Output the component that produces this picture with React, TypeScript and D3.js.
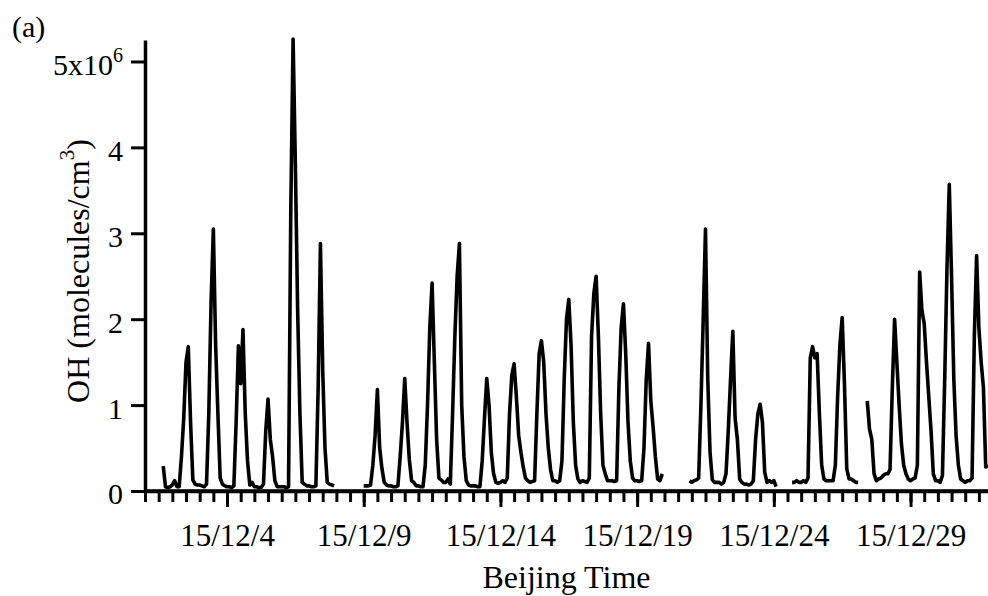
import React, { useEffect, useRef } from "react";
import * as d3 from "d3";

// OH concentration in 10^6 molecules/cm3, read every 2 h (00, 02, ... 22 h) per day.
// null = no measurement
const dec01 = [null, null, null, null, null, null, null, null, 0.29, 0.05, 0.04, 0.05];
const dec02 = [0.07, 0.12, 0.05, 0.05, 0.4, 0.85, 1.5, 1.68, 0.8, 0.13, 0.08, 0.07];
const dec03 = [0.07, 0.06, 0.05, 0.08, 0.9, 2.2, 3.05, 1.7, 0.9, 0.15, 0.08, 0.06];
const dec04 = [0.05, 0.05, 0.04, 0.06, 0.8, 1.69, 1.25, 1.88, 0.9, 0.35, 0.07, 0.1];
const dec05 = [0.05, 0.05, 0.04, 0.04, 0.08, 0.7, 1.07, 0.6, 0.4, 0.12, 0.05, 0.05];
const dec06 = [0.05, 0.05, 0.04, 0.05, 3.3, 5.26, 3.8, 2.1, 0.9, 0.1, 0.08, 0.06];
const dec07 = [0.06, 0.05, 0.05, 0.06, 1.2, 2.88, 1.4, 0.5, 0.1, 0.08, 0.07, 0.06];
const dec08 = [null, null, null, null, null, null, null, null, null, null, null, null];
const dec09 = [0.06, 0.06, 0.06, 0.07, 0.3, 0.65, 1.18, 0.5, 0.26, 0.1, 0.07, 0.06];
const dec10 = [0.06, 0.05, 0.05, 0.06, 0.4, 0.8, 1.31, 0.8, 0.37, 0.12, 0.1, 0.06];
const dec11 = [0.06, 0.05, 0.05, 0.3, 1.0, 1.9, 2.42, 1.5, 0.6, 0.15, 0.13, 0.1];
const dec12 = [0.1, 0.14, 0.08, 0.9, 1.8, 2.5, 2.88, 1.0, 0.4, 0.12, 0.07, 0.06];
const dec13 = [0.06, 0.06, 0.05, 0.05, 0.35, 0.85, 1.31, 1.0, 0.45, 0.2, 0.1, 0.09];
const dec14 = [0.1, 0.12, 0.1, 0.15, 0.9, 1.35, 1.48, 1.1, 0.65, 0.45, 0.28, 0.15];
const dec15 = [0.12, 0.1, 0.11, 0.12, 0.9, 1.6, 1.75, 1.5, 0.9, 0.5, 0.25, 0.12];
const dec16 = [0.12, 0.1, 0.12, 0.35, 1.3, 2.0, 2.23, 1.7, 0.8, 0.3, 0.14, 0.1];
const dec17 = [0.12, 0.11, 0.1, 0.15, 1.8, 2.3, 2.5, 1.8, 0.9, 0.3, 0.2, 0.12];
const dec18 = [0.12, 0.12, 0.11, 0.12, 1.2, 1.9, 2.18, 1.6, 0.8, 0.35, 0.15, 0.12];
const dec19 = [0.12, 0.11, 0.12, 0.5, 1.3, 1.72, 1.05, 0.75, 0.4, 0.14, 0.12, 0.2];
const dec20 = [null, null, null, null, null, null, null, null, null, null, null, 0.12];
const dec21 = [0.1, 0.12, 0.13, 0.15, 1.0, 2.0, 3.05, 1.3, 0.45, 0.13, 0.1, 0.1];
const dec22 = [0.1, 0.08, 0.1, 0.2, 0.7, 1.3, 1.86, 0.85, 0.6, 0.14, 0.1, 0.08];
const dec23 = [0.08, 0.07, 0.08, 0.12, 0.6, 0.9, 1.01, 0.8, 0.22, 0.1, 0.12, 0.1];
const dec24 = [0.12, 0.05, null, null, null, null, null, null, 0.1, 0.1, 0.12, 0.1];
const dec25 = [0.1, 0.12, 0.1, 0.15, 1.55, 1.68, 1.55, 1.6, 0.9, 0.3, 0.14, 0.12];
const dec26 = [0.12, 0.12, 0.12, 0.3, 1.1, 1.7, 2.02, 1.25, 0.26, 0.14, 0.14, 0.12];
const dec27 = [0.1, 0.1, null, null, null, 1.05, 0.72, 0.6, 0.2, 0.12, 0.14, 0.15];
const dec28 = [0.18, 0.2, 0.2, 0.25, 1.2, 2.0, 1.5, 1.0, 0.55, 0.3, 0.2, 0.14];
const dec29 = [0.12, 0.14, 0.15, 0.3, 2.55, 2.1, 1.95, 1.5, 1.1, 0.7, 0.2, 0.12];
const dec30 = [0.12, 0.1, 0.18, 1.3, 2.6, 3.57, 2.5, 1.3, 0.64, 0.3, 0.14, 0.12];
const dec31 = [0.1, 0.12, 0.12, 0.15, 1.8, 2.74, 1.9, 1.5, 1.2, 0.28, 0.3];

const days = [
  dec01, dec02, dec03, dec04, dec05, dec06, dec07, dec08, dec09, dec10,
  dec11, dec12, dec13, dec14, dec15, dec16, dec17, dec18, dec19, dec20,
  dec21, dec22, dec23, dec24, dec25, dec26, dec27, dec28, dec29, dec30, dec31,
];

const startDate = new Date(2015, 11, 1, 0);
const endDate = new Date(2015, 11, 31, 20);
const majorTickDates = ["2015-12-04", "2015-12-09", "2015-12-14", "2015-12-19", "2015-12-24", "2015-12-29"];
const yTicks = [0, 1, 2, 3, 4, 5];
const yTickLabels = ["0", "1", "2", "3", "4", "5x10"];

type Point = { t: Date; v: number | null };

const FONT = "'Liberation Serif', 'Times New Roman', serif";

export default function App() {
  const svgRef = useRef<SVGSVGElement>(null);

  useEffect(() => {
    const svg = d3.select(svgRef.current);
    svg.selectAll("*").remove();

    const left = 145, right = 988, top = 40, bottom = 491;

    const x = d3.scaleTime().domain([startDate, endDate]).range([left, right]);
    const y = d3.scaleLinear().domain([0, 5.25]).range([bottom, top]);

    const points: Point[] = [];
    days.forEach((vals, d) => {
      vals.forEach((v, i) => {
        points.push({ t: d3.timeHour.offset(startDate, d * 24 + i * 2), v });
      });
    });

    const line = d3.line<Point>()
      .defined(d => d.v !== null)
      .x(d => x(d.t))
      .y(d => y(d.v as number));

    svg.append("path")
      .datum(points)
      .attr("d", line)
      .attr("fill", "none")
      .attr("stroke", "#000")
      .attr("stroke-width", 3.6)
      .attr("stroke-linejoin", "round");

    // x axis: half-day minor ticks, 5-day major ticks
    const minorTicks = d3.timeHour.every(12)!.range(startDate, d3.timeHour.offset(endDate, 1));
    const parse = d3.timeParse("%Y-%m-%d");
    const majorTicks = majorTickDates.map(s => parse(s) as Date);
    const fmt = d3.timeFormat("%y/%m/%-d");

    svg.append("g")
      .attr("transform", `translate(0,${bottom})`)
      .call(d3.axisBottom(x).tickValues(minorTicks).tickSize(11).tickSizeOuter(0).tickFormat(() => ""))
      .call(g => g.select(".domain").remove());

    const xAxis = svg.append("g")
      .attr("transform", `translate(0,${bottom})`)
      .call(d3.axisBottom(x).tickValues(majorTicks).tickSize(16).tickSizeOuter(0).tickPadding(17).tickFormat(d => fmt(d as Date)));

    xAxis.selectAll("text")
      .attr("font-family", FONT)
      .attr("font-size", 31)
      .attr("fill", "#000");

    const yAxis = svg.append("g")
      .attr("transform", `translate(${left},0)`)
      .call(d3.axisLeft(y).tickValues(yTicks).tickSize(14).tickSizeOuter(0).tickPadding(8)
        .tickFormat((d, i) => yTickLabels[i]));

    yAxis.selectAll("text")
      .attr("font-family", FONT)
      .attr("font-size", 30)
      .attr("fill", "#000")
      .attr("dy", "0.43em");

    yAxis.selectAll<SVGTextElement, number>("text")
      .filter(d => d === 5)
      .append("tspan")
      .attr("dy", "-0.62em")
      .attr("font-size", 20)
      .text("6");

    svg.selectAll(".tick line").attr("stroke", "#000").attr("stroke-width", 3);
    svg.selectAll(".domain").attr("stroke", "#000").attr("stroke-width", 3.5);

    // x axis baseline across the plot
    svg.append("line")
      .attr("x1", left).attr("x2", right)
      .attr("y1", bottom).attr("y2", bottom)
      .attr("stroke", "#000").attr("stroke-width", 3.5);

    const title = svg.append("text")
      .attr("transform", `translate(89,271) rotate(-90)`)
      .attr("text-anchor", "middle")
      .attr("font-family", FONT)
      .attr("font-size", 32)
      .attr("fill", "#000");
    title.append("tspan").text("OH (molecules/cm");
    title.append("tspan").attr("dy", "-0.7em").attr("font-size", 21).text("3");
    title.append("tspan").attr("dy", "0.46em").text(")");

    svg.append("text")
      .attr("x", (left + right) / 2)
      .attr("y", 588)
      .attr("text-anchor", "middle")
      .attr("font-family", FONT)
      .attr("font-size", 32)
      .attr("fill", "#000")
      .text("Beijing Time");

    svg.append("text")
      .attr("x", 12)
      .attr("y", 37)
      .attr("font-family", FONT)
      .attr("font-size", 30)
      .attr("fill", "#000")
      .text("(a)");
  }, []);

  return (
    <svg
      ref={svgRef}
      width={988}
      height={596}
      style={{ position: "absolute", left: 0, top: 0, background: "#fff" }}
    />
  );
}
